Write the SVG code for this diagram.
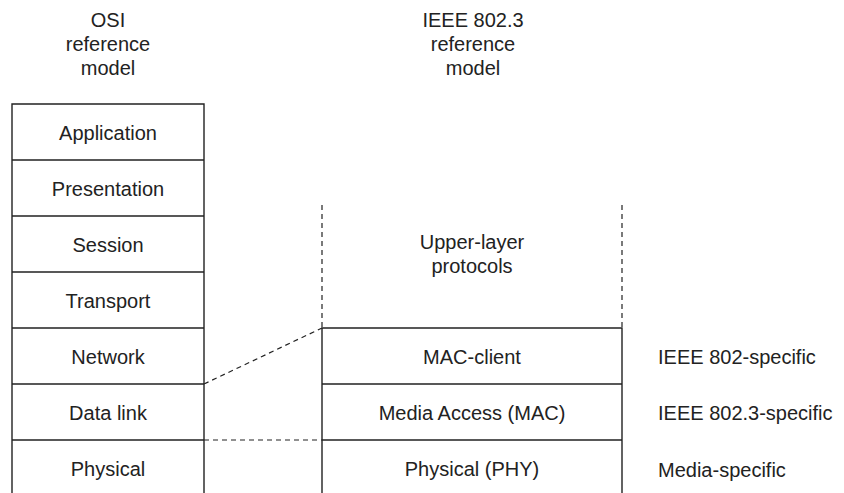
<svg xmlns="http://www.w3.org/2000/svg" width="844" height="493" viewBox="0 0 844 493">
<style>
text{font-family:"Liberation Sans",Arial,Helvetica,sans-serif;font-size:20px;fill:#222}
.c{text-anchor:middle}
.box{fill:none;stroke:#222;stroke-width:1.4}
.dash{fill:none;stroke:#222;stroke-width:1.2;stroke-dasharray:5,4}
</style>
<rect width="844" height="493" fill="#fff"/>
<g id="titles">
<text class="c" x="108" y="27">OSI</text>
<text class="c" x="108" y="51">reference</text>
<text class="c" x="108" y="75">model</text>
<text class="c" x="473" y="27">IEEE 802.3</text>
<text class="c" x="473" y="51">reference</text>
<text class="c" x="473" y="75">model</text>
</g>
<g id="osi-stack">
<path class="box" d="M12,493 V104 H204 V493 M12,160 H204 M12,216 H204 M12,272 H204 M12,328 H204 M12,384 H204 M12,440 H204"/>
<g id="osi-application"><text class="c" x="108" y="140">Application</text></g>
<g id="osi-presentation"><text class="c" x="108" y="196">Presentation</text></g>
<g id="osi-session"><text class="c" x="108" y="252">Session</text></g>
<g id="osi-transport"><text class="c" x="108" y="308">Transport</text></g>
<g id="osi-network"><text class="c" x="108" y="364">Network</text></g>
<g id="osi-datalink"><text class="c" x="108" y="420">Data link</text></g>
<g id="osi-physical"><text class="c" x="108" y="476">Physical</text></g>
</g>
<g id="ieee-stack">
<g id="upper-layer">
<path class="dash" d="M322,205 V328 M622,205 V328"/>
<text class="c" x="472" y="249">Upper-layer</text>
<text class="c" x="472" y="273">protocols</text>
</g>
<path class="box" d="M322,493 V328 H622 V493 M322,384 H622 M322,440 H622"/>
<g id="mac-client"><text class="c" x="472" y="364">MAC-client</text></g>
<g id="mac"><text class="c" x="472" y="420">Media Access (MAC)</text></g>
<g id="phy"><text class="c" x="472" y="476">Physical (PHY)</text></g>
</g>
<g id="labels">
<text x="658" y="364">IEEE 802-specific</text>
<text x="658" y="420">IEEE 802.3-specific</text>
<text x="658" y="477">Media-specific</text>
</g>
<g id="connectors">
<path class="dash" d="M204,384 L322,328"/>
<path class="dash" d="M204,440 H322"/>
</g>
</svg>
